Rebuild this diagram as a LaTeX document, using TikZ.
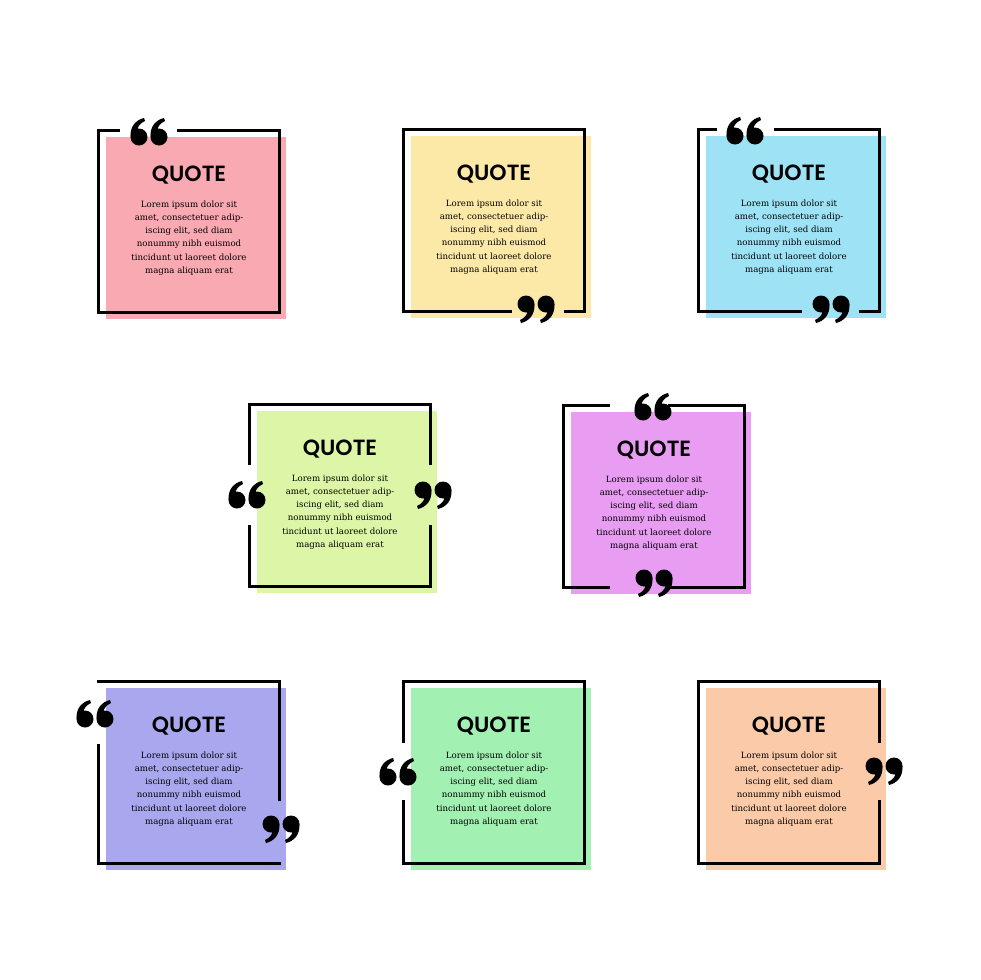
\documentclass[tikz,border=0pt]{standalone}
\usepackage{fontspec}
\setmainfont{DejaVu Serif}
\newfontfamily\headfont{Poppins}[UprightFont=* SemiBold]
\usetikzlibrary{positioning}

\definecolor{cpink}{HTML}{F9A9B2}
\definecolor{cyellow}{HTML}{FCE9A8}
\definecolor{ccyan}{HTML}{9EE3F5}
\definecolor{clime}{HTML}{DDF5A6}
\definecolor{cviolet}{HTML}{E89DF2}
\definecolor{cblue}{HTML}{A9A8EE}
\definecolor{cgreen}{HTML}{A2F0B2}
\definecolor{cpeach}{HTML}{FBCAA8}

\tikzset{
  frame/.style={line width=3pt, line cap=rect},
  head/.style={font=\headfont\fontsize{22}{24}\selectfont},
  body/.style={align=center, font=\fontsize{8.6}{13.3}\selectfont},
  qopen/.pic={
    \foreach \cx in {-10,10}{
      \fill (\cx,5) circle (8.5);
      \fill (\cx-8.5,5) .. controls (\cx-9,-6) and (\cx-3,-12) .. (\cx+5,-14)
        -- (\cx+6,-11) .. controls (\cx+1,-9) and (\cx-2,-4) .. (\cx-1,-3) -- cycle;
    }
  },
  qclose/.pic={
    \begin{scope}[rotate=180]
    \foreach \cx in {-10,10}{
      \fill (\cx,5) circle (8.5);
      \fill (\cx-8.5,5) .. controls (\cx-9,-6) and (\cx-3,-12) .. (\cx+5,-14)
        -- (\cx+6,-11) .. controls (\cx+1,-9) and (\cx-2,-4) .. (\cx-1,-3) -- cycle;
    }
    \end{scope}
  }
}

% card background and texts, frame is drawn per card
\newcommand{\card}[4]{%
  \fill[#4] (8,7) rectangle (188,189);
  \node[head] (#1head) at (91,45) {QUOTE};
  \node[body] (#1text) at (91,108) {Lorem ipsum dolor sit\\amet, consectetuer adip-\\iscing elit, sed diam\\nonummy nibh euismod\\tincidunt ut laoreet dolore\\magna aliquam erat};
}

\begin{document}
\begin{tikzpicture}[x=1pt, y=-1pt]
\fill[white] (0,0) rectangle (980,980);
\useasboundingbox (0,0) rectangle (980,980);

% top row
\begin{scope}[shift={(98,130)}]
  \card{pink}{}{}{cpink}
  \draw[frame] (20,0) -- (0,0) -- (0,182) -- (181,182) -- (181,0) -- (80,0);
  \pic at (51,2) {qopen};
\end{scope}
\begin{scope}[shift={(403,129)}]
  \card{yellow}{}{}{cyellow}
  \draw[frame] (107,182) -- (0,182) -- (0,0) -- (181,0) -- (181,182) -- (162,182);
  \pic at (133,180) {qclose};
\end{scope}
\begin{scope}[shift={(698,129)}]
  \card{cyan}{}{}{ccyan}
  \draw[frame] (17,0) -- (0,0) -- (0,182) -- (102,182);
  \draw[frame] (77,0) -- (181,0) -- (181,182) -- (162,182);
  \pic at (47,2) {qopen};
  \pic at (133,180) {qclose};
\end{scope}

% middle row
\begin{scope}[shift={(249,404)}]
  \card{lime}{}{}{clime}
  \draw[frame] (0,59) -- (0,0) -- (181,0) -- (181,59);
  \draw[frame] (0,122) -- (0,182) -- (181,182) -- (181,122);
  \pic at (-2,91) {qopen};
  \pic at (184,91) {qclose};
\end{scope}
\begin{scope}[shift={(563,405)}]
  \card{violet}{}{}{cviolet}
  \draw[frame] (45,0) -- (0,0) -- (0,182) -- (45,182);
  \draw[frame] (106,0) -- (181,0) -- (181,182) -- (106,182);
  \pic at (90,2) {qopen};
  \pic at (91,178) {qclose};
\end{scope}

% bottom row
\begin{scope}[shift={(98,681)}]
  \card{blue}{}{}{cblue}
  \draw[frame] (0,64) -- (0,182) -- (181,182);
  \draw[frame] (0,0) -- (181,0) -- (181,118);
  \pic at (-3,33) {qopen};
  \pic at (183,148) {qclose};
\end{scope}
\begin{scope}[shift={(403,681)}]
  \card{green}{}{}{cgreen}
  \draw[frame] (0,60) -- (0,0) -- (181,0) -- (181,182) -- (0,182) -- (0,120);
  \pic at (-5,91) {qopen};
\end{scope}
\begin{scope}[shift={(698,681)}]
  \card{peach}{}{}{cpeach}
  \draw[frame] (181,60) -- (181,0) -- (0,0) -- (0,182) -- (181,182) -- (181,120);
  \pic at (186,90) {qclose};
\end{scope}
\end{tikzpicture}
\end{document}
